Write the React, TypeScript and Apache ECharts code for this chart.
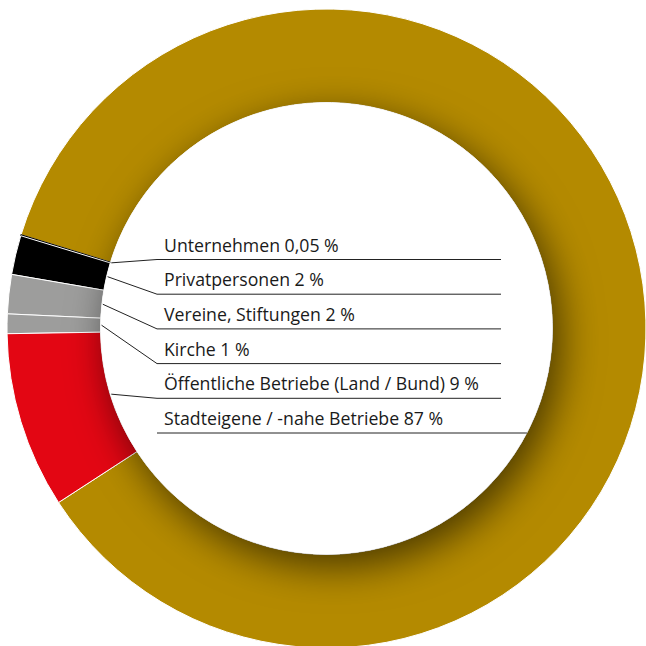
import React, { useEffect, useRef } from "react";
import * as echarts from "echarts";

// Data (clockwise: false, drawn counter-clockwise starting at the gold segment)
const categories = [
  "Stadteigene / -nahe Betriebe",
  "Unternehmen",
  "Privatpersonen",
  "Vereine, Stiftungen",
  "Kirche",
  "Öffentliche Betriebe (Land / Bund)",
];
const shares = [87, 0.05, 2, 2, 1, 9];
const colors = ["#B48A00", "#000000", "#000000", "#9D9D9C", "#9D9D9C", "#E30613"];
const labelRows = [5, 0, 1, 2, 3, 4];

// Layout
const CX = 326.5;
const CY = 328.5;
const R_IN = 226;
const R_OUT = 319.5;
const START = 213;
const TEXT_X = 164;
const LINE_X0 = 157;
const LINE_X1 = 501;
const ROW_Y0 = 259.5;
const ROW_STEP = 34.7;

function fmt(v: number) {
  return String(v).replace(".", ",") + " %";
}

export default function App() {
  const ref = useRef<HTMLDivElement>(null);
  useEffect(() => {
    if (!ref.current) return;
    const chart = echarts.init(ref.current, null, { renderer: "svg" });
    const total = shares.reduce((a, b) => a + b, 0);
    let acc = START;
    const mids = shares.map((v) => {
      const span = (v / total) * 360;
      const m = acc + span / 2;
      acc += span;
      return m;
    });

    const linePoints = (i: number) => {
      const rowY = ROW_Y0 + labelRows[i] * ROW_STEP;
      if (i === 0) {
        const xe = CX + Math.sqrt(R_IN * R_IN - (rowY - CY) * (rowY - CY));
        return [
          [xe, rowY],
          [xe - 1, rowY],
          [LINE_X0, rowY],
        ];
      }
      const a = (mids[i] * Math.PI) / 180;
      const r = R_IN - 1;
      return [
        [CX + r * Math.cos(a), CY - r * Math.sin(a)],
        [LINE_X0, rowY],
        [LINE_X1, rowY],
      ];
    };

    chart.setOption({
      animation: false,
      series: [
        {
          type: "pie",
          z: 2,
          center: [CX, CY],
          radius: [R_IN, R_OUT],
          startAngle: START,
          clockwise: false,
          silent: true,
          label: { show: false },
          labelLine: { show: false },
          itemStyle: { borderColor: "#ffffff", borderWidth: 1 },
          data: categories.map((n, i) => ({
            name: n,
            value: shares[i],
            itemStyle:
              i === 1
                ? { color: colors[i], borderColor: "#000000", borderWidth: 1.2 }
                : { color: colors[i] },
          })),
        },
        {
          type: "pie",
          z: 3,
          center: [CX, CY],
          radius: [0, R_IN],
          silent: true,
          label: { show: false },
          labelLine: { show: false },
          data: [
            {
              name: "",
              value: 1,
              itemStyle: {
                color: "#ffffff",
                shadowBlur: 40,
                shadowColor: "rgba(0,0,0,0.6)",
                shadowOffsetX: 8,
                shadowOffsetY: 12,
              },
            },
          ],
        },
        {
          type: "pie",
          z: 4,
          center: [CX, CY],
          radius: [R_IN, R_OUT],
          startAngle: START,
          clockwise: false,
          silent: true,
          avoidLabelOverlap: false,
          itemStyle: { color: "rgba(0,0,0,0)", borderWidth: 0 },
          label: {
            show: true,
            position: "outside",
            fontFamily: "Open Sans",
            fontSize: 17.7,
            color: "#1a1a1a",
            formatter: (p: any) => `${p.name} ${fmt(p.value)}`,
          },
          labelLine: {
            show: true,
            lineStyle: { color: "#222222", width: 1 },
          },
          labelLayout: (p: any) => {
            const i = p.dataIndex;
            const rowY = ROW_Y0 + labelRows[i] * ROW_STEP;
            return {
              x: TEXT_X,
              y: rowY - 15,
              align: "left",
              verticalAlign: "middle",
              labelLinePoints: linePoints(i),
            };
          },
          data: categories.map((n, i) => ({ name: n, value: shares[i] })),
        },
      ],
    });
    return () => chart.dispose();
  }, []);
  return (
    <div
      ref={ref}
      style={{ position: "fixed", left: 0, top: 0, width: 646, height: 646, background: "#fff" }}
    />
  );
}
